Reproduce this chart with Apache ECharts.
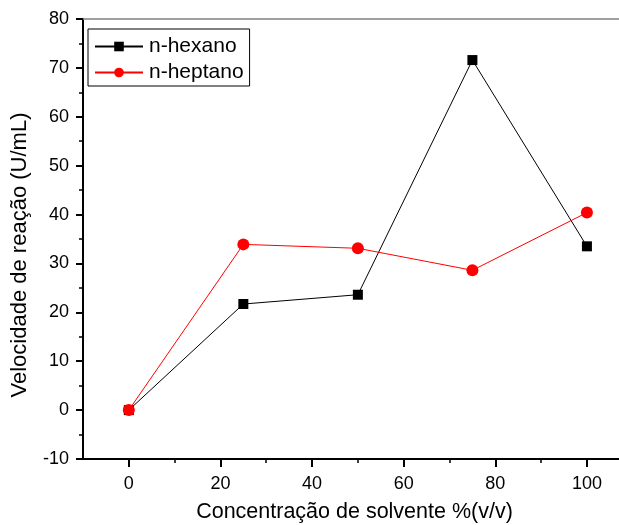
<!DOCTYPE html>
<html>
<head>
<meta charset="utf-8">
<script src="https://cdn.jsdelivr.net/npm/echarts@6/dist/echarts.min.js"></script>
<style>
  html, body { margin: 0; padding: 0; background: #fff; }
  #chart { width: 619px; height: 525px; }
</style>
</head>
<body>
<div id="chart"></div>
<script>
// Solvent concentration (% v/v) and reaction rates (U/mL)
const concentracao = [0, 25, 50, 75, 100];
const hexano = [0, 21.7, 23.6, 71.6, 33.5];
const heptano = [0, 33.9, 33.1, 28.6, 40.4];
const xTickLabels = [0, 20, 40, 60, 80, 100];
const xMinorTicks = [10, 30, 50, 70, 90];

const FONT = "'Liberation Sans', Arial, sans-serif";
const pairs = (ys) => concentracao.map((x, i) => [x, ys[i]]);

// x range is cut at the right edge of the canvas (frame continues past it)
const X_MIN = -10, X_MAX = 107;

const chart = echarts.init(document.getElementById('chart'), null, { renderer: 'canvas' });
chart.setOption({
  animation: false,
  backgroundColor: '#ffffff',
  grid: { left: 83, top: 19, bottom: 66, right: 0, containLabel: false, outerBoundsMode: 'none' },
  legend: {
    orient: 'vertical',
    left: 88,
    top: 29,
    padding: [7, 6, 3, 6],
    itemGap: 5,
    itemWidth: 48,
    itemHeight: 12,
    borderColor: '#000',
    borderWidth: 1,
    backgroundColor: '#fff',
    textStyle: { fontFamily: FONT, fontSize: 21, color: '#000', padding: [0, 0, 0, 1] },
    data: ['n-hexano', 'n-heptano']
  },
  xAxis: [
    {
      type: 'value',
      min: X_MIN, max: X_MAX, interval: 10,
      position: 'bottom',
      name: 'Concentração de solvente %(v/v)',
      nameLocation: 'middle',
      nameGap: 42,
      nameTextStyle: { fontFamily: FONT, fontSize: 21.5, color: '#000', padding: [0, 0, 0, 7] },
      axisLine: { show: true, onZero: false, lineStyle: { color: '#000', width: 2 } },
      axisTick: { show: true, inside: false, length: 8, lineStyle: { color: '#000', width: 2 }, customValues: xTickLabels },
      axisLabel: { fontFamily: FONT, fontSize: 18, color: '#000', margin: 16, customValues: xTickLabels },
      splitLine: { show: false }
    },
    {
      type: 'value',
      min: X_MIN, max: X_MAX, interval: 10,
      position: 'bottom',
      axisLine: { show: false, onZero: false },
      axisTick: { show: true, length: 4, lineStyle: { color: '#000', width: 1.5 }, customValues: xMinorTicks },
      axisLabel: { show: false },
      splitLine: { show: false }
    },
    {
      type: 'value',
      min: X_MIN, max: X_MAX,
      position: 'top',
      axisLine: { show: true, onZero: false, lineStyle: { color: '#808080', width: 1.5 } },
      axisTick: { show: false },
      axisLabel: { show: false },
      splitLine: { show: false }
    }
  ],
  yAxis: {
    type: 'value',
    min: -10, max: 80, interval: 10,
    name: 'Velocidade de reação (U/mL)',
    nameLocation: 'middle',
    nameGap: 52,
    nameTextStyle: { fontFamily: FONT, fontSize: 22, color: '#000', padding: [0, 32, 0, 0] },
    axisLine: { show: true, onZero: false, lineStyle: { color: '#000', width: 2 } },
    axisTick: { show: true, length: 7, lineStyle: { color: '#000', width: 2 } },
    minorTick: { show: true, splitNumber: 2, length: 4, lineStyle: { color: '#000', width: 1.5 } },
    axisLabel: { fontFamily: FONT, fontSize: 18, color: '#000', margin: 14 },
    splitLine: { show: false }
  },
  series: [
    {
      name: 'n-hexano',
      type: 'line',
      xAxisIndex: 0,
      data: pairs(hexano),
      symbol: 'rect',
      symbolSize: 10,
      itemStyle: { color: '#000' },
      lineStyle: { color: '#000', width: 1 },
      z: 3
    },
    {
      name: 'n-heptano',
      type: 'line',
      xAxisIndex: 0,
      data: pairs(heptano),
      symbol: 'circle',
      symbolSize: 12,
      itemStyle: { color: '#ff0000' },
      lineStyle: { color: '#ff0000', width: 1 },
      z: 4
    }
  ]
});
</script>
</body>
</html>
